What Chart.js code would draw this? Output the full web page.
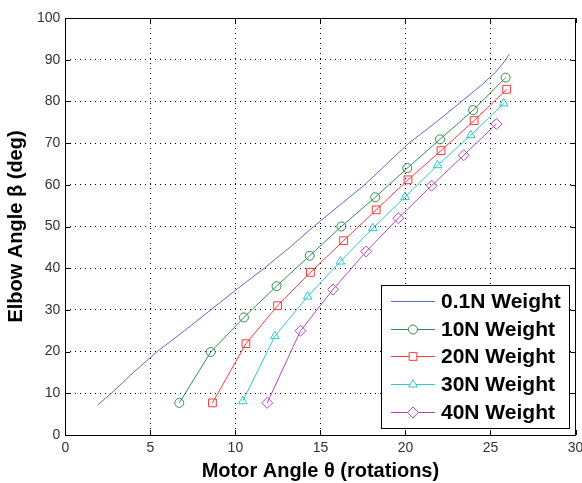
<!DOCTYPE html>
<html>
<head>
<meta charset="utf-8">
<script src="https://cdn.jsdelivr.net/npm/chart.js@4.4.0/dist/chart.umd.min.js"></script>
<style>
  html, body { margin: 0; padding: 0; background: #fff; }
  #wrap { position: relative; width: 582px; height: 483px; }
</style>
</head>
<body>
<div id="wrap"><canvas id="elbowChart" width="582" height="483"></canvas></div>
<script>
// motor angle (rotations) vs elbow angle (deg)
var labels = ["0.1N Weight", "10N Weight", "20N Weight", "30N Weight", "40N Weight"];

var w01x = [1.9, 2.7, 4.0, 5.4, 7.0, 8.55, 10.1, 11.7, 13.2, 14.6, 16.1, 17.6, 18.9, 20.2, 21.8, 23.3, 24.5, 25.3, 25.9, 26.1];
var w01y = [7.2, 10, 15.0, 20, 25.0, 30, 35.0, 40, 45.0, 50, 55.0, 60, 65.0, 70, 75.0, 80, 84.0, 87.0, 90, 91.3];

var w10x = [6.7, 8.55, 10.5, 12.42, 14.37, 16.23, 18.22, 20.11, 22.03, 23.98, 25.89];
var w10y = [7.7, 19.9, 28.2, 35.7, 43.0, 50.0, 57.0, 64.0, 70.9, 77.9, 85.7];

var w20x = [8.65, 10.62, 12.48, 14.41, 16.36, 18.28, 20.15, 22.09, 24.04, 25.95];
var w20y = [7.7, 21.9, 31.0, 39.0, 46.6, 54.0, 61.2, 68.2, 75.4, 82.9];

var w30x = [10.43, 12.32, 14.25, 16.17, 18.08, 19.98, 21.89, 23.84, 25.78];
var w30y = [8.1, 23.7, 33.2, 41.6, 49.6, 57.1, 64.7, 71.9, 79.5];

var w40x = [11.87, 13.83, 15.74, 17.69, 19.58, 21.54, 23.43, 25.35];
var w40y = [7.7, 25.0, 34.9, 44.0, 52.0, 59.8, 67.1, 74.6];

var colors = ["#5a6cc4", "#2f8f52", "#ff3b3b", "#33c7c7", "#b048c0"];
var markers = [false, "circle", "rect", "triangle", "rectRot"];
var markerSize = [0, 4.5, 5.5, 5, 5.5];

function pts(xs, ys) {
  var out = [];
  for (var i = 0; i < xs.length; i++) out.push({x: xs[i], y: ys[i]});
  return out;
}
var xsAll = [w01x, w10x, w20x, w30x, w40x];
var ysAll = [w01y, w10y, w20y, w30y, w40y];

var datasets = [];
for (var i = 0; i < labels.length; i++) {
  datasets.push({
    label: labels[i],
    data: pts(xsAll[i], ysAll[i]),
    borderColor: colors[i],
    backgroundColor: "rgba(0,0,0,0)",
    borderWidth: 1,
    pointStyle: markers[i],
    pointRadius: markerSize[i],
    pointBorderWidth: 1,
    pointBorderColor: colors[i],
    pointBackgroundColor: "rgba(0,0,0,0)",
    tension: 0
  });
}

var titleFont = "Arial, 'Liberation Sans', sans-serif";

// matlab style inward ticks on all four sides + legend box inside the axes
var matlabBits = {
  id: "matlabBits",
  afterDraw: function(chart) {
    var ctx = chart.ctx, xs = chart.scales.x, ys = chart.scales.y, a = chart.chartArea;
    ctx.save();
    ctx.strokeStyle = "#000";
    ctx.lineWidth = 1;
    ctx.beginPath();
    xs.ticks.forEach(function(t) {
      var px = Math.round(xs.getPixelForValue(t.value)) + 0.5;
      ctx.moveTo(px, a.bottom); ctx.lineTo(px, a.bottom - 5);
      ctx.moveTo(px, a.top); ctx.lineTo(px, a.top + 5);
    });
    ys.ticks.forEach(function(t) {
      var py = Math.round(ys.getPixelForValue(t.value)) + 0.5;
      ctx.moveTo(a.left, py); ctx.lineTo(a.left + 5, py);
      ctx.moveTo(a.right, py); ctx.lineTo(a.right - 5, py);
    });
    ctx.stroke();
    ctx.strokeRect(Math.round(a.left) + 0.5, Math.round(a.top) + 0.5, Math.round(a.right - a.left), Math.round(a.bottom - a.top));

    // legend
    var lx = 381.5, ly = 285.5, lw = 188, lh = 143;
    ctx.fillStyle = "#fff";
    ctx.fillRect(lx, ly, lw, lh);
    ctx.strokeStyle = "#000";
    ctx.strokeRect(lx, ly, lw, lh);
    ctx.font = "bold 21px " + titleFont;
    ctx.textBaseline = "middle";
    chart.data.datasets.forEach(function(ds, i) {
      var ry = Math.round(301 + i * 27.7) + 0.5;
      ctx.strokeStyle = ds.borderColor;
      ctx.beginPath();
      ctx.moveTo(391, ry); ctx.lineTo(435, ry);
      ctx.stroke();
      if (ds.pointStyle) {
        ctx.fillStyle = "#fff";
        Chart.helpers.drawPoint(ctx, {pointStyle: ds.pointStyle, radius: ds.pointRadius, borderWidth: 1}, 413, ry);
      }
      ctx.fillStyle = "#000";
      ctx.fillText(ds.label, 441, ry + 1);
    });
    ctx.restore();
  }
};

new Chart(document.getElementById("elbowChart"), {
  type: "line",
  data: { datasets: datasets },
  plugins: [matlabBits],
  options: {
    responsive: false,
    animation: false,
    layout: { padding: { top: 18, right: 5, left: 4, bottom: 0 } },
    plugins: {
      legend: { display: false },
      tooltip: { enabled: false }
    },
    scales: {
      x: {
        type: "linear",
        min: 0, max: 30,
        afterFit: function(s) { s.height = 48; s.paddingRight = 0; },
        ticks: { stepSize: 5, color: "#333", font: { family: titleFont, size: 14 }, padding: 5 },
        grid: { color: "#000", lineWidth: 1, drawTicks: false, borderDash: [1, 4] },
        border: { display: false, dash: [1, 4] },
        title: { display: true, text: "Motor Angle \u03b8 (rotations)", color: "#000",
          font: { family: titleFont, size: 20, weight: "bold" }, padding: { top: 0, bottom: 0 } }
      },
      y: {
        type: "linear",
        min: 0, max: 100,
        ticks: { stepSize: 10, color: "#333", font: { family: titleFont, size: 14 }, padding: 5 },
        grid: { color: "#000", lineWidth: 1, drawTicks: false, borderDash: [1, 4] },
        border: { display: false, dash: [1, 4] },
        title: { display: true, text: "Elbow Angle \u03b2 (deg)", color: "#000",
          font: { family: titleFont, size: 20, weight: "bold" }, padding: { top: 0, bottom: 4 } }
      }
    }
  }
});
</script>
</body>
</html>
